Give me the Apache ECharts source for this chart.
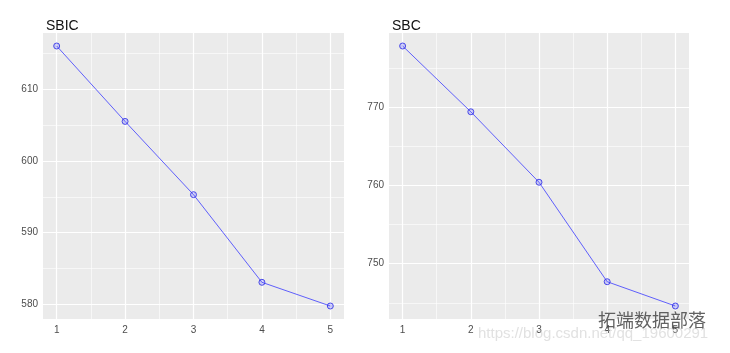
<!DOCTYPE html>
<html>
<head>
<meta charset="utf-8">
<script src="https://cdn.jsdelivr.net/npm/echarts@6/dist/echarts.min.js"></script>
<style>
  html, body { margin: 0; padding: 0; background: #fff; }
  #chart { width: 730px; height: 353px; }
</style>
</head>
<body>
<div id="chart"></div>
<script>
  // data
  let steps = [1, 2, 3, 4, 5];
  let sbic = [616.0, 605.5, 595.3, 583.1, 579.8];
  let sbc = [777.8, 769.4, 760.4, 747.7, 744.6];

  let xMajor = [1, 2, 3, 4, 5];
  let xMinor = [1.5, 2.5, 3.5, 4.5];
  let sbicMajor = [580, 590, 600, 610];
  let sbicMinor = [585, 595, 605, 615];
  let sbcMajor = [750, 760, 770];
  let sbcMinor = [745, 755, 765, 775];

  let lineColor = 'rgba(60,60,255,0.8)';
  let labelStyle = { color: '#4d4d4d', fontSize: 10, fontFamily: 'Liberation Sans, Arial' };
  let titleStyle = { fontSize: 14, fontWeight: 'normal', color: '#111', fontFamily: 'Liberation Sans, Arial' };

  function pairs(ys) {
    return steps.map(function (s, i) { return [s, ys[i]]; });
  }

  // ggplot style: 5% expansion of the data range
  function expand(vals) {
    let lo = Math.min.apply(null, vals), hi = Math.max.apply(null, vals);
    let pad = (hi - lo) * 0.05;
    return [lo - pad, hi + pad];
  }

  function xAxes(gridIndex) {
    let xr = expand(steps);
    let base = { type: 'value', gridIndex: gridIndex, min: xr[0], max: xr[1],
      axisLine: { show: false } };
    return [
      Object.assign({}, base, {
        axisTick: { show: false, customValues: xMajor },
        axisLabel: Object.assign({ customValues: xMajor, margin: 6 }, labelStyle),
        splitLine: { show: true, lineStyle: { color: '#fff', width: 1.2 } }
      }),
      Object.assign({}, base, {
        axisTick: { show: false, customValues: xMinor },
        axisLabel: { show: false, customValues: xMinor },
        splitLine: { show: true, lineStyle: { color: '#fff', width: 0.6 } }
      })
    ];
  }

  function yAxes(gridIndex, vals, major, minor) {
    let yr = expand(vals);
    let base = { type: 'value', gridIndex: gridIndex, min: yr[0], max: yr[1],
      axisLine: { show: false } };
    return [
      Object.assign({}, base, {
        axisTick: { show: false, customValues: major },
        axisLabel: Object.assign({ customValues: major, margin: 5 }, labelStyle),
        splitLine: { show: true, lineStyle: { color: '#fff', width: 1.2 } }
      }),
      Object.assign({}, base, {
        axisTick: { show: false, customValues: minor },
        axisLabel: { show: false, customValues: minor },
        splitLine: { show: true, lineStyle: { color: '#fff', width: 0.6 } }
      })
    ];
  }

  function lineSeries(xi, yi, data) {
    return {
      type: 'line', xAxisIndex: xi, yAxisIndex: yi, data: pairs(data),
      symbol: 'circle', symbolSize: 6, showSymbol: true,
      lineStyle: { color: lineColor, width: 1 },
      itemStyle: { color: 'rgba(90,90,255,0.25)', borderColor: 'rgba(50,50,230,0.85)', borderWidth: 1 },
      silent: true, animation: false
    };
  }

  let option = {
    backgroundColor: '#fff',
    animation: false,
    title: [
      { text: 'SBIC', left: 41, top: 14, textStyle: titleStyle },
      { text: 'SBC', left: 387, top: 14, textStyle: titleStyle }
    ],
    grid: [
      { left: 43, top: 33, width: 301, height: 286, show: true, backgroundColor: '#ebebeb', borderWidth: 0 },
      { left: 389, top: 33, width: 300, height: 286, show: true, backgroundColor: '#ebebeb', borderWidth: 0 }
    ],
    xAxis: xAxes(0).concat(xAxes(1)),
    yAxis: yAxes(0, sbic, sbicMajor, sbicMinor).concat(yAxes(1, sbc, sbcMajor, sbcMinor)),
    series: [
      lineSeries(0, 0, sbic),
      lineSeries(2, 2, sbc)
    ],
    graphic: [
      { type: 'text', left: 598, top: 311, z: 100, silent: true,
        style: { text: '拓端数据部落', fill: 'rgba(70,70,70,0.85)', font: '18px "Noto Sans CJK SC"' } },
      { type: 'text', left: 478, top: 326, z: 100, silent: true,
        style: { text: 'https://blog.csdn.net/qq_19600291', fill: 'rgba(200,200,200,0.55)', font: '15px "Liberation Sans"' } }
    ]
  };

  echarts.init(document.getElementById('chart')).setOption(option);
</script>
</body>
</html>
